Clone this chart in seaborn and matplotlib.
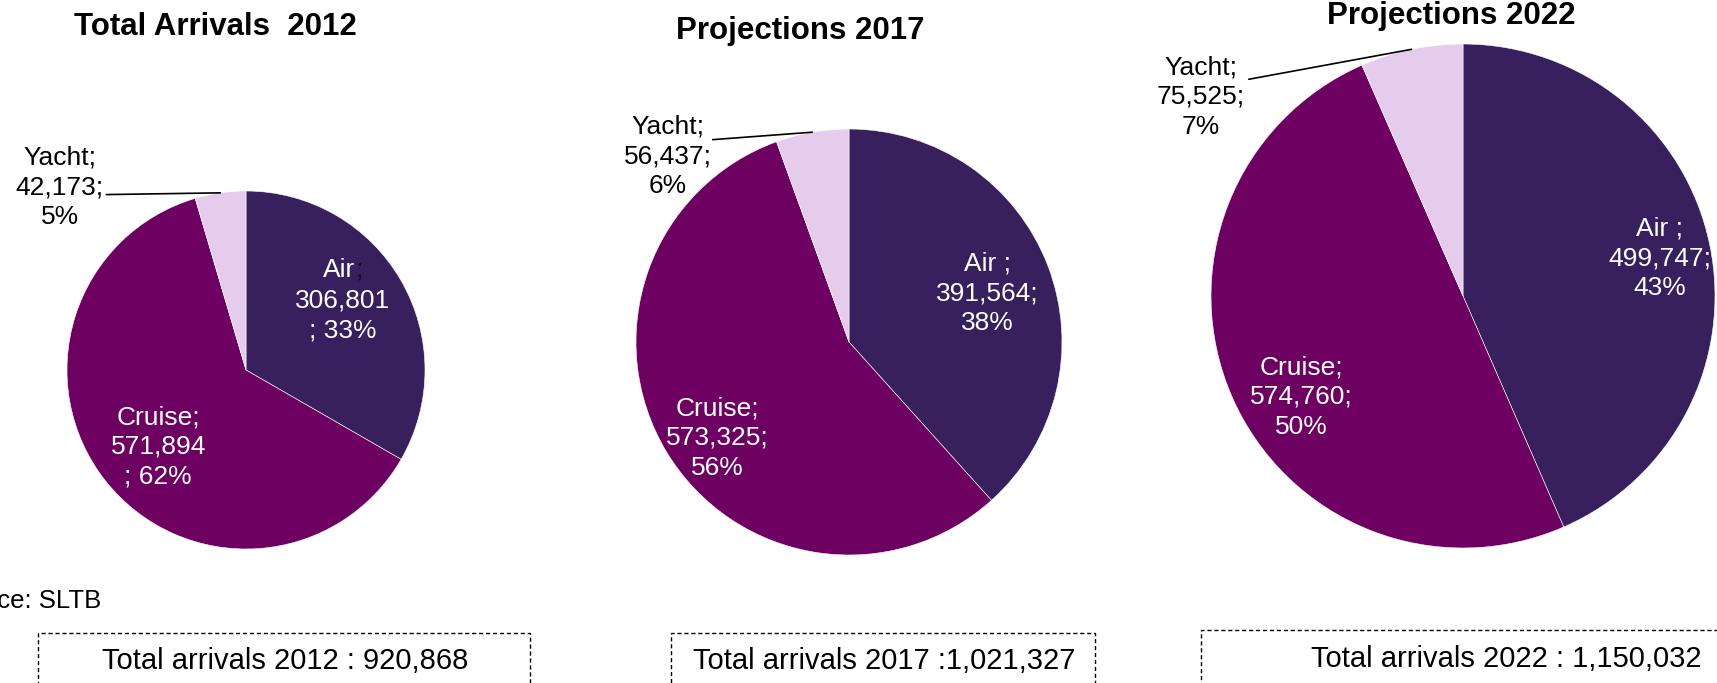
import matplotlib
matplotlib.use("Agg")
import matplotlib.pyplot as plt
from matplotlib.patches import Rectangle
import numpy as np
import seaborn as sns

# Arrivals by mode of transport
modes = ["Air", "Cruise", "Yacht"]
arrivals_2012 = [306801, 571894, 42173]
arrivals_2017 = [391564, 573325, 56437]
arrivals_2022 = [499747, 574760, 75525]
pct_2012 = [33, 62, 5]
pct_2017 = [38, 56, 6]
pct_2022 = [43, 50, 7]
titles = ["Total Arrivals  2012", "Projections 2017", "Projections 2022"]
totals_text = ["Total arrivals 2012 : 920,868",
               "Total arrivals 2017 :1,021,327",
               "Total arrivals 2022 : 1,150,032"]
source_text = "Source: SLTB"

sns.set_theme(style="white")
plt.rcParams["font.family"] = ["Liberation Sans", "DejaVu Sans"]
palette = sns.color_palette(["#381F5E", "#6E0061", "#E6CCEC"])

W, H = 1717, 683
fig = plt.figure(figsize=(W / 100, H / 100), dpi=100)


def fx(px):
    return px / W


def fy(py):
    return 1 - py / H


def add_pie_axes(cx, cy, r):
    return fig.add_axes([fx(cx - r), fy(cy + r), 2 * r / W, 2 * r / H])


label_fs = 19
line_sp = 1.3
line_px = 30.4  # rendered height of one label line in pixels

# (center x, center y, radius) in pixels, label offsets in radius units
panels = [
    dict(vals=arrivals_2012, pct=pct_2012, geom=(246, 370, 179),
         air_txt=("Air", "306,801\n; 33%"), air_pos=(0.54, 0.39),
         cru_txt="Cruise;\n571,894\n; 62%", cru_pos=(-0.49, -0.43),
         yac_txt="Yacht;\n42,173;\n5%", yac_pos=(-1.04, 1.02),
         lead_start=(-0.78, 0.98)),
    dict(vals=arrivals_2017, pct=pct_2017, geom=(849, 342, 213),
         air_txt="Air ;\n391,564;\n38%", air_pos=(0.65, 0.23),
         cru_txt="Cruise;\n573,325;\n56%", cru_pos=(-0.62, -0.45),
         yac_txt="Yacht;\n56,437;\n6%", yac_pos=(-0.85, 0.87),
         lead_start=(-0.64, 0.95)),
    dict(vals=arrivals_2022, pct=pct_2022, geom=(1463, 296, 252),
         air_txt="Air ;\n499,747;\n43%", air_pos=(0.78, 0.15),
         cru_txt="Cruise;\n574,760;\n50%", cru_pos=(-0.64, -0.40),
         yac_txt="Yacht;\n75,525;\n7%", yac_pos=(-1.04, 0.79),
         lead_start=(-0.85, 0.86)),
]

for i, p in enumerate(panels):
    cx, cy, r = p["geom"]
    ax = add_pie_axes(cx, cy, r)
    wedges, _ = ax.pie(p["vals"], colors=palette, startangle=90,
                       counterclock=False, radius=1,
                       wedgeprops=dict(edgecolor="white", linewidth=0.4))
    ax.set_xlim(-1, 1)
    ax.set_ylim(-1, 1)
    ax.set_aspect("equal")
    ax.axis("off")

    step = line_px / r
    # Air label
    if isinstance(p["air_txt"], tuple):
        head, rest = p["air_txt"]
        ax_x, ax_y = p["air_pos"]
        t1 = ax.text(ax_x - 0.02, ax_y + step, head, ha="center",
                     va="center", color="white", fontsize=label_fs)
        # dark separator right after the word
        ax.annotate(";", xy=(1, 0.5), xycoords=t1, ha="left", va="center",
                    color="#111111", fontsize=label_fs)
        ax.text(ax_x, ax_y - step / 2, rest, ha="center", va="center",
                color="white", fontsize=label_fs, linespacing=line_sp)
    else:
        ax.text(*p["air_pos"], p["air_txt"], ha="center", va="center",
                color="white", fontsize=label_fs, linespacing=line_sp)

    ax.text(*p["cru_pos"], p["cru_txt"], ha="center", va="center",
            color="white", fontsize=label_fs, linespacing=line_sp)
    ax.text(*p["yac_pos"], p["yac_txt"], ha="center", va="center",
            color="black", fontsize=label_fs, linespacing=line_sp)

    # leader line from the yacht label to its wedge
    w = wedges[2]
    mid = np.deg2rad((w.theta1 + w.theta2) / 2)
    ax.annotate("", xy=(np.cos(mid), np.sin(mid)), xytext=p["lead_start"],
                arrowprops=dict(arrowstyle="-", color="black", lw=1.2,
                                shrinkA=0, shrinkB=0),
                annotation_clip=False)

# Titles
title_pos = [(215, 27), (800, 31), (1451, 16)]
for t, (x, y) in zip(titles, title_pos):
    fig.text(fx(x), fy(y), t, ha="center", va="center", fontsize=22.5,
             fontweight="bold", color="black")

# Source note
fig.text(fx(101), fy(601), source_text, ha="right", va="center",
         fontsize=18.5, color="black")

# Dashed boxes with totals
boxes = [(38, 530, 633), (671, 1095, 633), (1201, 1740, 630)]
box_text_pos = [(285, 661), (884, 661), (1506, 659)]
for (x0, x1, top), txt, (tx, ty) in zip(boxes, totals_text, box_text_pos):
    rect = Rectangle((fx(x0), fy(684)), (x1 - x0) / W, (684 - top) / H,
                     transform=fig.transFigure, fill=False, edgecolor="black",
                     linewidth=1.0, linestyle=(0, (3, 2)))
    fig.patches.append(rect)
    fig.text(fx(tx), fy(ty), txt, ha="center", va="center", fontsize=21,
             color="black")

fig.savefig("out.png", dpi=100, facecolor="white")
